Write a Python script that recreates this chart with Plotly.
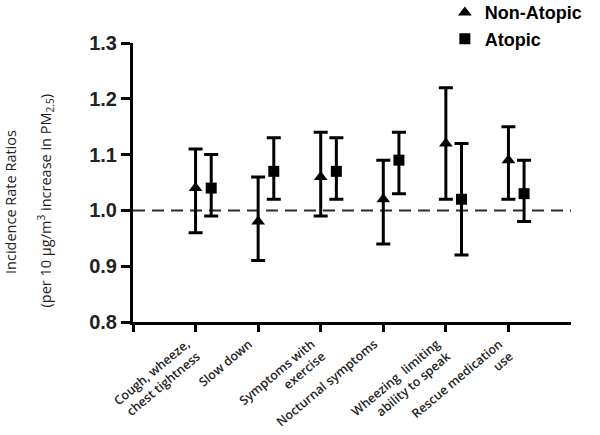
import plotly.graph_objects as go

categories = ["Cough, wheeze,<br>chest tightness", "Slow down", "Symptoms with<br>exercise",
              "Nocturnal symptoms", "Wheezing  limiting<br>ability to speak", "Rescue medication<br>use"]
non_atopic = [1.04, 0.98, 1.06, 1.02, 1.12, 1.09]
non_atopic_lo = [0.96, 0.91, 0.99, 0.94, 1.02, 1.02]
non_atopic_hi = [1.11, 1.06, 1.14, 1.09, 1.22, 1.15]
atopic = [1.04, 1.07, 1.07, 1.09, 1.02, 1.03]
atopic_lo = [0.99, 1.02, 1.02, 1.03, 0.92, 0.98]
atopic_hi = [1.10, 1.13, 1.13, 1.14, 1.12, 1.09]
y_ticks = [0.8, 0.9, 1.0, 1.1, 1.2, 1.3]

n = len(categories)
x_na = [i + 1 for i in range(n)]
x_a = [i + 1.25 for i in range(n)]

fig = go.Figure()
fig.add_trace(go.Scatter(
    x=x_na, y=non_atopic, mode="markers", name="Non-Atopic",
    marker=dict(symbol="triangle-up", size=12, color="black"),
    error_y=dict(type="data", symmetric=False,
                 array=[h - v for h, v in zip(non_atopic_hi, non_atopic)],
                 arrayminus=[v - l for v, l in zip(non_atopic, non_atopic_lo)],
                 color="black", thickness=3, width=7)))
fig.add_trace(go.Scatter(
    x=x_a, y=atopic, mode="markers", name="Atopic",
    marker=dict(symbol="square", size=11, color="black"),
    error_y=dict(type="data", symmetric=False,
                 array=[h - v for h, v in zip(atopic_hi, atopic)],
                 arrayminus=[v - l for v, l in zip(atopic, atopic_lo)],
                 color="black", thickness=3, width=7)))

fig.add_shape(type="line", xref="x", yref="y", x0=0, x1=n + 1, y0=1.0, y1=1.0,
              line=dict(color="#2a2a2a", width=2, dash="12px,7px"), layer="below")

fig.update_layout(
    width=600, height=435,
    paper_bgcolor="white", plot_bgcolor="white",
    margin=dict(l=133, r=29, t=43, b=113, autoexpand=False),
    showlegend=True,
    legend=dict(x=0.712, y=1.175, xanchor="left", yanchor="top",
                font=dict(family="Liberation Sans, Arial", size=18, color="black", weight="bold"),
                bgcolor="rgba(0,0,0,0)", itemwidth=30, tracegroupgap=0),
    xaxis=dict(range=[0, n + 1], tickvals=list(range(0, n + 1)), ticktext=[""] + categories,
               showline=True, linecolor="black", linewidth=3, ticks="outside", ticklen=7,
               tickwidth=3, tickcolor="black", showgrid=False, zeroline=False, tickangle=-40,
               ticklabelshift=-9,
               tickfont=dict(family="Open Sans", size=12.5, color="#222", weight=600)),
    yaxis=dict(range=[0.8, 1.3], tickvals=y_ticks, ticktext=[f"{v:.1f}" for v in y_ticks],
               showline=True, linecolor="black", linewidth=3, ticks="outside", ticklen=9,
               tickwidth=3, tickcolor="black", showgrid=False, zeroline=False,
               tickfont=dict(family="Liberation Sans, Arial", size=20, color="#222", weight="bold")),
)

fig.add_annotation(text="Incidence Rate Ratios", xref="paper", yref="paper",
                   x=-0.281, y=0.43, xanchor="center", yanchor="middle", textangle=-90,
                   showarrow=False, font=dict(family="Open Sans", size=14.5, color="#222"))
fig.add_annotation(text="(per 10 μg/m<sup>3</sup> increase in PM<sub>2.5</sub>)", xref="paper", yref="paper",
                   x=-0.2, y=0.437, xanchor="center", yanchor="middle", textangle=-90,
                   showarrow=False, font=dict(family="Open Sans", size=14.5, color="#222"))

fig.write_html("out.html", config={"displayModeBar": False},
               post_script="document.body.style.margin='0px';")
